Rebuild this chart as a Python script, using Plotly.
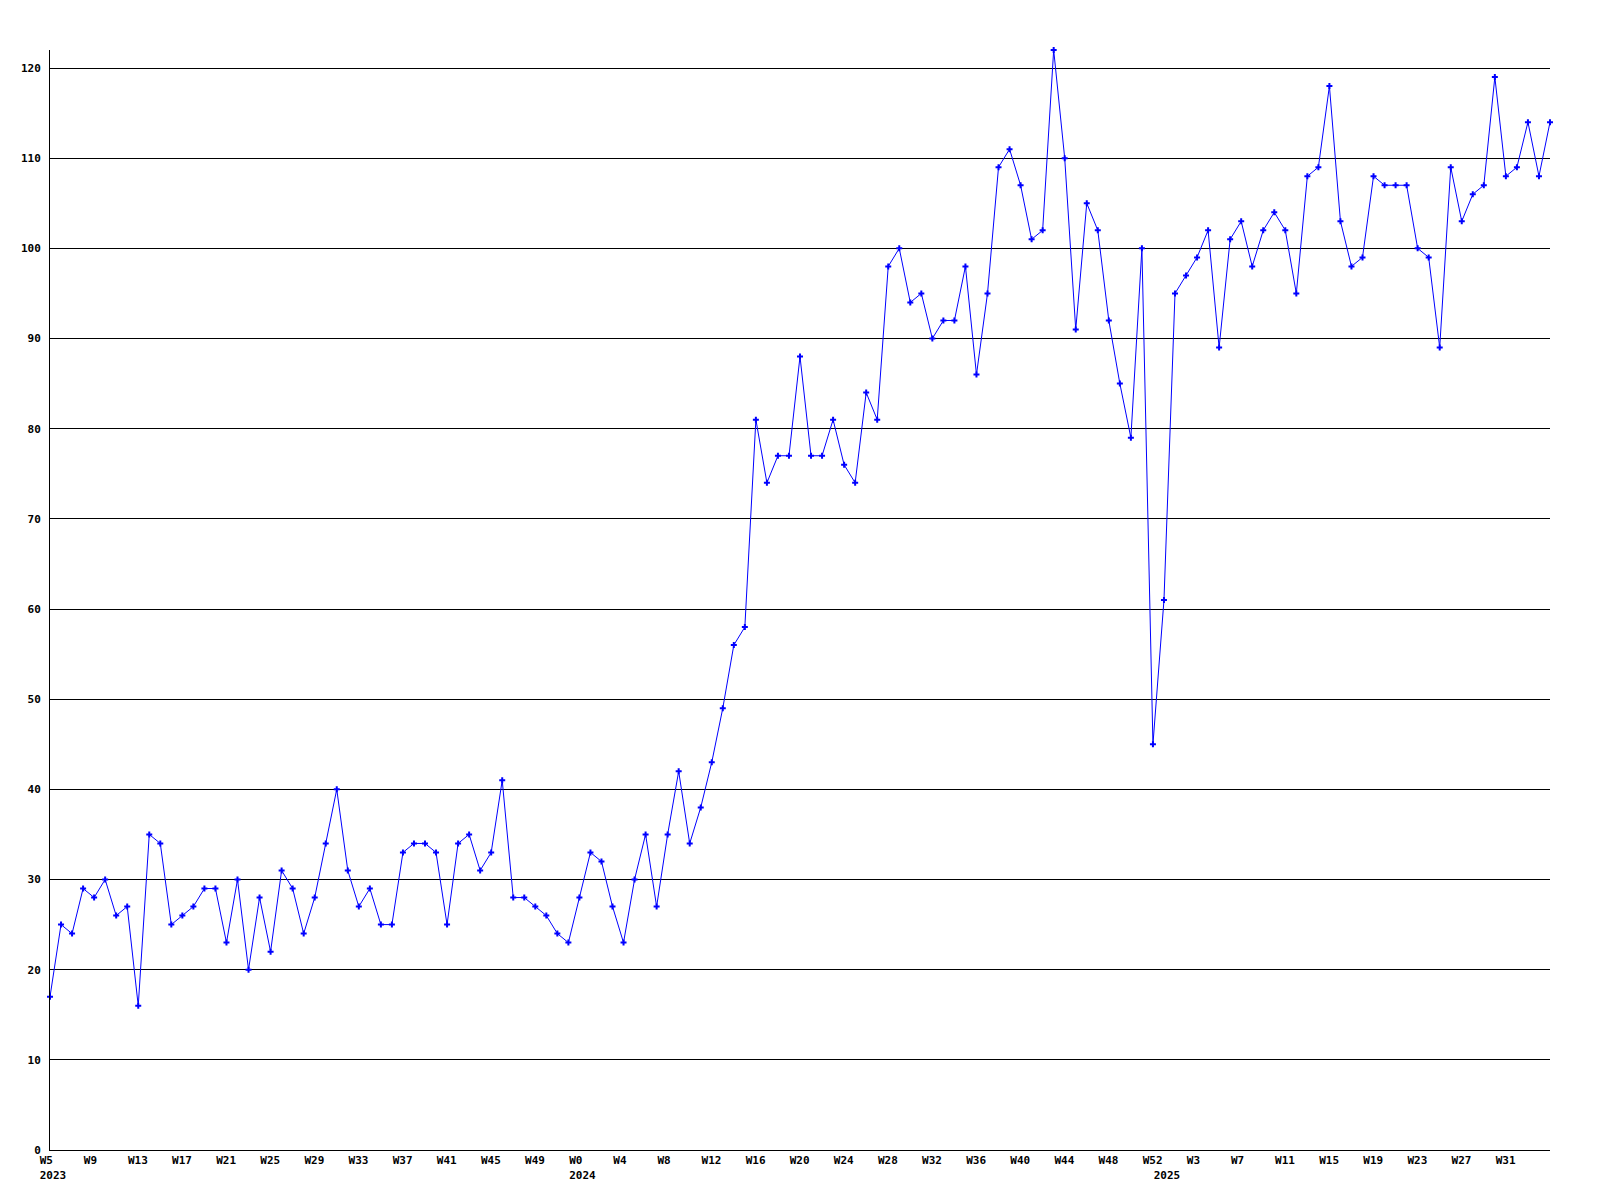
import plotly.graph_objects as go

# Weekly values, 2023 W5 .. 2025 W35 (one per week)
values = [
    17, 25, 24, 29, 28, 30, 26, 27, 16, 35,
    34, 25, 26, 27, 29, 29, 23, 30, 20, 28,
    22, 31, 29, 24, 28, 34, 40, 31, 27, 29,
    25, 25, 33, 34, 34, 33, 25, 34, 35, 31,
    33, 41, 28, 28, 27, 26, 24, 23, 28, 33,
    32, 27, 23, 30, 35, 27, 35, 42, 34, 38,
    43, 49, 56, 58, 81, 74, 77, 77, 88, 77,
    77, 81, 76, 74, 84, 81, 98, 100, 94, 95,
    90, 92, 92, 98, 86, 95, 109, 111, 107, 101,
    102, 122, 110, 91, 105, 102, 92, 85, 79, 100,
    45, 61, 95, 97, 99, 102, 89, 101, 103, 98,
    102, 104, 102, 95, 108, 109, 118, 103, 98, 99,
    108, 107, 107, 107, 100, 99, 89, 109, 103, 106,
    107, 119, 108, 109, 114, 108, 114,
]

# Week tick labels (every 4 weeks) and year labels
week_labels = (
    ["W%d" % w for w in range(5, 50, 4)]      # 2023
    + ["W%d" % w for w in range(0, 53, 4)]    # 2024
    + ["W%d" % w for w in range(3, 32, 4)]    # 2025
)
year_labels = {0: "2023", 48: "2024", 101: "2025"}
y_ticks = list(range(0, 121, 10))

NB = "\u00a0"


def pad(s, n=4):
    return s + NB * (n - len(s))


x = list(range(len(values)))
tickvals = []
ticktext = []
for k, lab in enumerate(week_labels):
    i = 4 * k
    tickvals.append(i)
    if i in year_labels:
        ticktext.append(pad(lab) + "<br>" + year_labels[i])
    else:
        ticktext.append(pad(lab) + "<br>" + NB)
for i, yr in year_labels.items():
    if i not in tickvals:
        tickvals.append(i)
        ticktext.append(NB * 4 + "<br>" + yr)

fig = go.Figure()
fig.add_trace(go.Scatter(
    x=x, y=values, mode="lines+markers",
    line=dict(color="#0000ff", width=1),
    marker=dict(symbol="cross", size=5, color="#0000ff", line=dict(width=0)),
    cliponaxis=False,
    showlegend=False,
))

fig.update_layout(
    width=1600, height=1200,
    margin=dict(l=50, r=50, t=50, b=50),
    paper_bgcolor="white", plot_bgcolor="white",
    font=dict(family="DejaVu Sans Mono", size=11, color="black", weight="bold"),
    showlegend=False,
)
fig.update_xaxes(
    range=[0, len(values) - 1],
    tickmode="array", tickvals=tickvals, ticktext=ticktext,
    tickangle=0, ticklabelshift=3, ticklabelstandoff=0,
    showgrid=False, zeroline=False,
    showline=True, linecolor="black", linewidth=1,
    ticks="",
)
fig.update_yaxes(
    range=[0, 122],
    tickmode="array", tickvals=y_ticks, ticktext=[str(v) for v in y_ticks],
    showgrid=True, gridcolor="black", gridwidth=1,
    zeroline=False,
    showline=True, linecolor="black", linewidth=1,
    ticks="", ticklabelstandoff=6,
)

fig.write_html(
    "out.html",
    config={"displayModeBar": False},
    post_script="document.body.style.margin='0';",
)
